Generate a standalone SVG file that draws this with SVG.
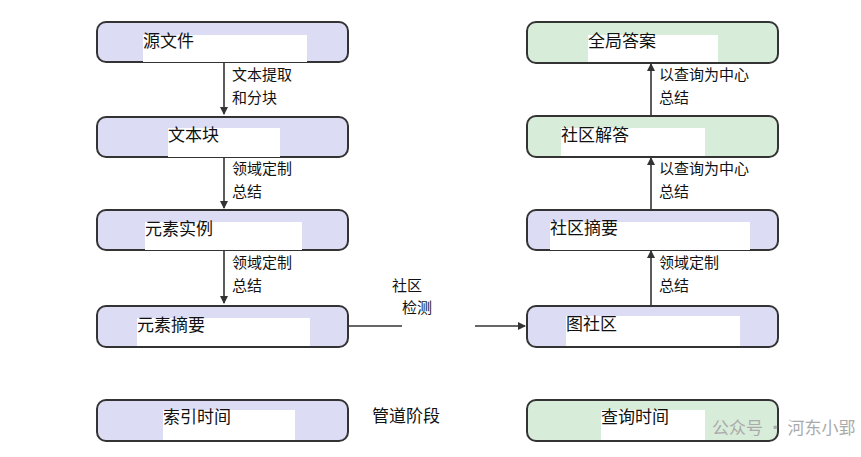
<svg xmlns="http://www.w3.org/2000/svg" width="861" height="457" viewBox="0 0 861 457">
<style>
text{font-family:"Noto Sans CJK SC","Liberation Sans",sans-serif;fill:#111}
.n{font-size:17px}.l{font-size:15px}
.b{fill:#dcdcf5;stroke:#333;stroke-width:2}
.g{fill:#d8ecda;stroke:#333;stroke-width:2}
.w{fill:#fff}
.c{stroke:#333;stroke-width:1.6;fill:none}
</style>
<defs><marker id="a" markerWidth="8" markerHeight="8" refX="7" refY="4" orient="auto" markerUnits="userSpaceOnUse"><path d="M0,0L8,4L0,8z" fill="#333"/></marker></defs>
<rect width="861" height="457" fill="#fff"/>
<g id="connectors">
<line class="c" x1="224" y1="62" x2="224" y2="114" marker-end="url(#a)"/>
<line class="c" x1="224" y1="157" x2="224" y2="208" marker-end="url(#a)"/>
<line class="c" x1="224" y1="250" x2="224" y2="303" marker-end="url(#a)"/>
<line class="c" x1="651" y1="305" x2="651" y2="251" marker-end="url(#a)"/>
<line class="c" x1="651" y1="209" x2="651" y2="158" marker-end="url(#a)"/>
<line class="c" x1="651" y1="115" x2="651" y2="64" marker-end="url(#a)"/>
<line class="c" x1="348" y1="326" x2="402" y2="326"/>
<line class="c" x1="475" y1="326" x2="525" y2="326" marker-end="url(#a)"/>
<g class="l">
<text x="232" y="80">文本提取</text><text x="232" y="103">和分块</text>
<text x="232" y="174">领域定制</text><text x="232" y="197">总结</text>
<text x="232" y="268">领域定制</text><text x="232" y="291">总结</text>
<text x="659" y="80">以查询为中心</text><text x="659" y="103">总结</text>
<text x="659" y="174">以查询为中心</text><text x="659" y="197">总结</text>
<text x="659" y="268">领域定制</text><text x="659" y="291">总结</text>
<text x="392" y="291">社区</text><text x="402" y="313">检测</text>
</g>
</g>
<g id="n1"><rect class="b" x="97" y="22" width="251" height="40" rx="9"/><rect class="w" x="143" y="35" width="164" height="27"/><text class="n" x="143" y="47">源文件</text></g>
<g id="n2"><rect class="b" x="97" y="117" width="251" height="40" rx="9"/><rect class="w" x="168" y="128" width="112" height="29"/><text class="n" x="168" y="141">文本块</text></g>
<g id="n3"><rect class="b" x="97" y="210" width="251" height="40" rx="9"/><rect class="w" x="145" y="222" width="157" height="28"/><text class="n" x="145" y="235">元素实例</text></g>
<g id="n4"><rect class="b" x="97" y="306" width="251" height="41" rx="9"/><rect class="w" x="137" y="318" width="173" height="28"/><text class="n" x="137" y="331">元素摘要</text></g>
<g id="n5"><rect class="b" x="97" y="400" width="251" height="41" rx="9"/><rect class="w" x="163" y="410" width="132" height="30"/><text class="n" x="163" y="423">索引时间</text></g>
<g id="n6"><rect class="g" x="527" y="22" width="251" height="41" rx="9"/><rect class="w" x="588" y="35" width="130" height="27"/><text class="n" x="588" y="47">全局答案</text></g>
<g id="n7"><rect class="g" x="527" y="116" width="251" height="41" rx="9"/><rect class="w" x="561" y="128" width="144" height="28"/><text class="n" x="561" y="141">社区解答</text></g>
<g id="n8"><rect class="b" x="527" y="210" width="251" height="40" rx="9"/><rect class="w" x="550" y="222" width="200" height="28"/><text class="n" x="550" y="234">社区摘要</text></g>
<g id="n9"><rect class="b" x="527" y="306" width="251" height="41" rx="9"/><rect class="w" x="566" y="316" width="174" height="30"/><text class="n" x="566" y="330">图社区</text></g>
<g id="n10"><rect class="g" x="527" y="400" width="251" height="41" rx="9"/><rect class="w" x="601" y="410" width="104" height="30"/><text class="n" x="601" y="423">查询时间</text></g>
<text class="n" x="372" y="422">管道阶段</text>
<text x="712" y="434" style="font-size:17px;fill:#aaa">公众号 · 河东小郢</text>
</svg>
